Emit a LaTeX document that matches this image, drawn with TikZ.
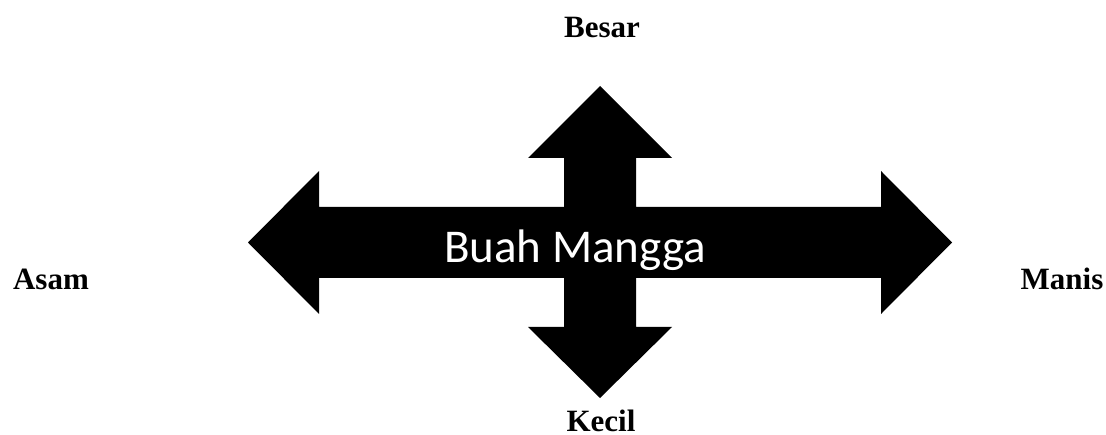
\documentclass[tikz,border=0pt]{standalone}
\usepackage{fontspec}
\setmainfont{Liberation Serif}
\newfontfamily\calib{Carlito}
\begin{document}
\begin{tikzpicture}[x=1pt,y=1pt,
  lbl/.style={font=\fontsize{31}{36}\selectfont\bfseries, anchor=base, inner sep=0pt},
  cent/.style={font=\calib\fontsize{47}{52}\selectfont, text=white, anchor=base, inner sep=0pt}]
\useasboundingbox (0,0) rectangle (1106,434);
% four-way arrow (image y -> 434 - y)
\def\arrowpath{(248,191.5) -- (319,263) -- (319,227) -- (564,227) -- (564,276) -- (528,276) -- (600,348) -- (672,276) -- (636,276) -- (636,227) -- (881,227) -- (881,263) -- (952,191.5) -- (881,120) -- (881,156) -- (636,156) -- (636,107) -- (672,107) -- (600,36) -- (528,107) -- (564,107) -- (564,156) -- (319,156) -- (319,120) -- cycle}
\fill[black] \arrowpath;
\begin{scope}
\clip \arrowpath;
\node[cent] (centre) at (575,171) {Buah Mangga};
\end{scope}
\node[lbl] (besar) at (602,396) {Besar};
\node[lbl] (asam) at (51,144) {Asam};
\node[lbl] (manis) at (1062,144) {Manis};
\node[lbl] (kecil) at (601,3) {Kecil};
\end{tikzpicture}
\end{document}
